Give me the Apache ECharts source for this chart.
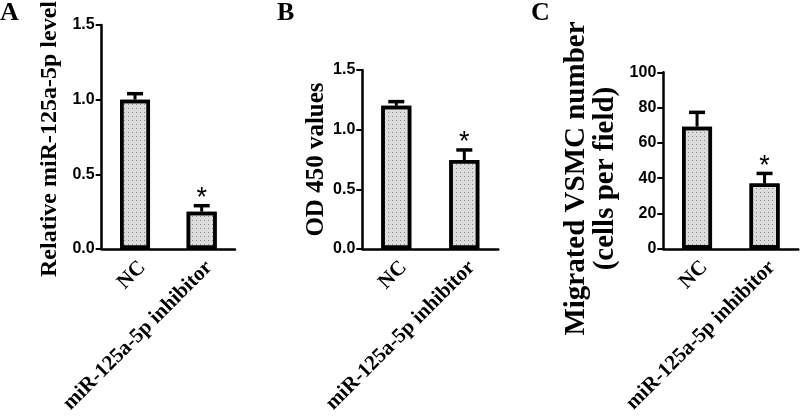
<!DOCTYPE html>
<html>
<head>
<meta charset="utf-8">
<script src="https://cdn.jsdelivr.net/npm/echarts@6/dist/echarts.min.js"></script>
<style>
  html, body { margin: 0; padding: 0; background: #fff; }
  #chart { width: 800px; height: 418px; }
</style>
</head>
<body>
<div id="chart"></div>
<script>
// ---- Data ----
const categories = ['NC', 'miR-125a-5p inhibitor'];
const significant = [false, true];

// Panel A: relative miR-125a-5p level
const levelMean = [1.00, 0.25];
const levelErr  = [0.04, 0.04];
const levelTicks = { min: 0, max: 1.5, interval: 0.5 };

// Panel B: OD 450 values
const odMean = [1.20, 0.745];
const odErr  = [0.035, 0.085];
const odTicks = { min: 0, max: 1.5, interval: 0.5 };

// Panel C: migrated VSMC number (cells per field)
const migMean = [69.2, 37.0];
const migErr  = [8.1, 5.7];
const migTicks = { min: 0, max: 100, interval: 20 };

const panelLetters = ['A', 'B', 'C'];
const yTitles = ['Relative miR-125a-5p level', 'OD 450 values', 'Migrated VSMC number\n(cells per field)'];

// ---- Styling helpers ----
const SERIF = '"Liberation Serif", "Times New Roman", serif';
const SANS = '"Liberation Sans", Arial, sans-serif';

const grids = [
  { left: 101.7, top: 25, width: 133.3, height: 224 },
  { left: 362.3, top: 70, width: 136, height: 179 },
  { left: 663.3, top: 72.3, width: 135, height: 176.5 }
].map(g => Object.assign(g, { containLabel: false, outerBoundsMode: 'none' }));

function errRender(params, api) {
  const idx = api.value(0), m = api.value(1), e = api.value(2), sig = api.value(3);
  const base = api.coord([idx, m]);
  const top = api.coord([idx, m + e]);
  const half = 8;
  const children = [
    { type: 'line', shape: { x1: base[0], y1: base[1], x2: top[0], y2: top[1] },
      style: { stroke: '#000', lineWidth: 3 } },
    { type: 'line', shape: { x1: top[0] - half, y1: top[1], x2: top[0] + half, y2: top[1] },
      style: { stroke: '#000', lineWidth: 3.5 } }
  ];
  if (sig) {
    children.push({ type: 'text', x: top[0], y: top[1] - 7,
      style: { text: '*', align: 'center', verticalAlign: 'middle',
               fontSize: 27, fontFamily: SANS, fill: '#000' } });
  }
  return { type: 'group', children };
}

const means = [levelMean, odMean, migMean];
const errs = [levelErr, odErr, migErr];
const ticks = [levelTicks, odTicks, migTicks];
const nameGaps = [40, 33, 43];
const nameFont = [24, 25, 29];
const namePad = [[0, 4, 0, 0], [0, 0, 0, 0], [0, 36, 0, 0]];
const letterLeft = [0, 277, 531];

const option = {
  animation: false,
  backgroundColor: '#fff',
  title: panelLetters.map((t, i) => ({
    text: t, left: letterLeft[i], top: 0, padding: 0,
    textStyle: { fontFamily: SERIF, fontWeight: 'bold', fontSize: 26, color: '#000' }
  })),
  grid: grids,
  xAxis: grids.map((g, i) => ({
    type: 'category', gridIndex: i, data: categories, boundaryGap: true, z: 5,
    axisLine: { lineStyle: { color: '#000', width: 2.5 } },
    axisTick: { inside: true, length: 5, alignWithLabel: true, lineStyle: { color: '#000', width: 2 } },
    axisLabel: { interval: 0, rotate: 45, margin: 8, color: '#000', verticalAlign: 'top',
                 fontFamily: SERIF, fontWeight: 'bold', fontSize: 21 },
    splitLine: { show: false }
  })),
  yAxis: grids.map((g, i) => ({
    type: 'value', gridIndex: i, min: ticks[i].min, max: ticks[i].max, interval: ticks[i].interval,
    name: yTitles[i], nameLocation: 'middle', nameGap: nameGaps[i],
    nameTextStyle: { fontFamily: SERIF, fontWeight: 'bold', fontSize: nameFont[i], color: '#000',
                     lineHeight: nameFont[i], padding: namePad[i] },
    axisLine: { show: true, lineStyle: { color: '#000', width: 2.5 } },
    axisTick: { show: true, length: 6, lineStyle: { color: '#000', width: 2 } },
    axisLabel: { margin: 7, color: '#000', fontFamily: SANS, fontWeight: 'bold', fontSize: 16,
                 formatter: v => (i < 2 ? v.toFixed(1) : String(v)) },
    splitLine: { show: false }
  })),
  series: []
};

for (let i = 0; i < 3; i++) {
  option.series.push({
    type: 'bar', xAxisIndex: i, yAxisIndex: i, data: means[i], barWidth: 30, z: 2,
    itemStyle: {
      color: '#dcdcdc', borderColor: '#000', borderWidth: 3.5,
      decal: { symbol: 'rect', symbolSize: 1, color: '#8a8a8a', dashArrayX: [1, 3], dashArrayY: [1, 3], rotation: 0 }
    }
  });
  option.series.push({
    type: 'custom', xAxisIndex: i, yAxisIndex: i, z: 6,
    renderItem: errRender,
    encode: { x: 0, y: 1 },
    data: categories.map((c, k) => [k, means[i][k], errs[i][k], significant[k] ? 1 : 0])
  });
}

const chart = echarts.init(document.getElementById('chart'), null, { renderer: 'canvas' });
chart.setOption(option);
</script>
</body>
</html>
